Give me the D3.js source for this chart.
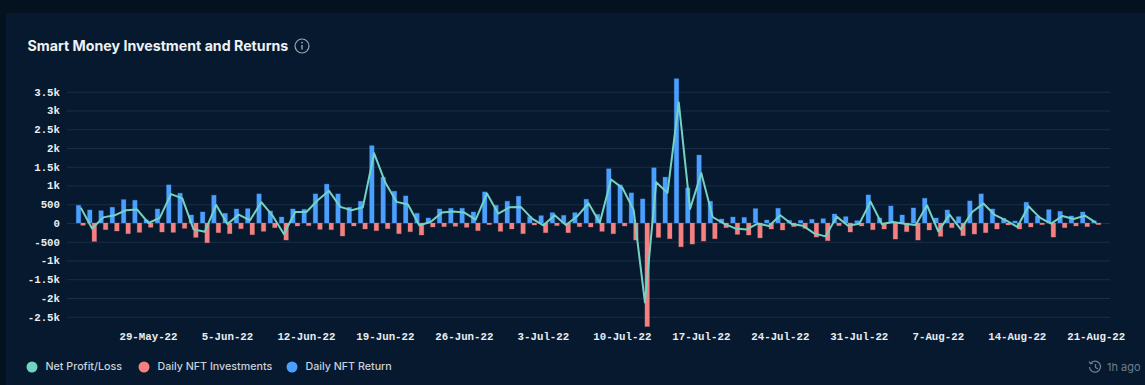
<!DOCTYPE html>
<html>
<head>
<meta charset="utf-8">
<script src="https://cdn.jsdelivr.net/npm/d3@7"></script>
<style>
    html, body { margin: 0; padding: 0; background: #04121f; overflow: hidden; }
    svg { display: block; }
    .tick text { font: bold 10.75px "Liberation Mono", monospace; fill: #e8edf2; }
</style>
</head>
<body>
<div id="chart"></div>
<script>
// values, one per day from 23-May-22 to 21-Aug-22
var dailyReturn = [473, 348, 330, 420, 625, 607, 85, 375, 1018, 795, 214, 295, 741, 259, 375, 384, 777, 321, 160, 375, 366, 777, 1036, 777,
    420, 580, 2063, 1223, 848, 723, 259, 134, 375, 393, 393, 295, 830, 473, 580, 714, 170, 196, 277, 205, 277, 634, 232,
    1447, 1018, 804, 643, 1473, 1223, 3848, 937, 1812, 580, 107, 160, 150, 384, 80, 393, 71, 71, 98, 116, 241, 170, 62,
    750, 134, 455, 214, 402, 660, 134, 348, 170, 589, 777, 375, 125, 54, 554, 188, 357, 312, 188, 295, 60];
var dailyInvest = [62, 491, 178, 214, 285, 250, 116, 241, 250, 143, 384, 527, 259, 285, 152, 312, 223, 125, 455, 80, 71, 170, 178, 348,
    80, 160, 205, 152, 285, 232, 321, 107, 98, 89, 116, 205, 45, 223, 160, 285, 54, 259, 71, 259, 98, 107, 223,
    286, 80, 455, 2760, 384, 420, 634, 562, 482, 420, 125, 304, 321, 398, 160, 187, 98, 143, 375, 473, 71, 241, 80,
    179, 161, 429, 232, 455, 187, 357, 125, 339, 295, 259, 160, 54, 160, 107, 45, 375, 125, 80, 98, 45];
var netProfit = [410, -145, 150, 205, 340, 357, 0, 135, 770, 655, -170, -232, 482, -28, 223, 72, 554, 196, -295, 295, 295, 607, 858, 429,
    340, 420, 1858, 1071, 563, 491, -62, 27, 277, 304, 277, 90, 785, 250, 420, 429, 116, -63, 206, -54, 179, 527, 9,
    1161, 938, 349, -2117, 1089, 803, 3214, 375, 1330, 160, -18, -144, -171, -14, -80, 206, -27, -72, -277, -357, 170, -71, -18,
    571, -27, 26, -18, -53, 473, -223, 223, -169, 294, 518, 215, 71, -106, 447, 143, -18, 187, 108, 197, 5];
var tickLabels = ["29-May-22", "5-Jun-22", "12-Jun-22", "19-Jun-22", "26-Jun-22", "3-Jul-22", "10-Jul-22", "17-Jul-22",
    "24-Jul-22", "31-Jul-22", "7-Aug-22", "14-Aug-22", "21-Aug-22"];
var yTicks = [-2500, -2000, -1500, -1000, -500, 0, 500, 1000, 1500, 2000, 2500, 3000, 3500];
var legendNames = ["Net Profit/Loss", "Daily NFT Investments", "Daily NFT Return"];

var W = 1145, H = 385;
var margin = { left: 67, right: 35, top: 76.75, bottom: 57 };
var colorLine = "#72d3c3", colorInv = "#f48080", colorRet = "#4b9fff";

var fmtDay = d3.timeFormat("%-d-%b-%y");
var days = d3.timeDay.range(new Date(2022, 4, 23), new Date(2022, 7, 22)).map(fmtDay);
var data = days.map(function (d, i) {
    return { day: d, ret: dailyReturn[i], inv: dailyInvest[i], net: netProfit[i] };
});

var svg = d3.select("#chart").append("svg").attr("width", W).attr("height", H);

// page + card
svg.append("rect").attr("width", W).attr("height", H).attr("fill", "#04121f");
svg.append("rect").attr("x", 6).attr("y", 13).attr("width", W - 6).attr("height", H - 13).attr("fill", "#06192e");

var scaleX = d3.scaleBand().domain(days).range([margin.left, W - margin.right]).paddingInner(0).paddingOuter(0.72);
var scaleX2 = d3.scaleBand().domain(["ret", "inv"]).range([0, scaleX.bandwidth()]).paddingInner(0).paddingOuter(0.25);
var scaleY = d3.scaleLinear().domain([-2760, 3848]).range([326.5, 78.7]);

// axes
var yAxis = d3.axisLeft(scaleY)
    .tickValues(yTicks)
    .tickSize(0)
    .tickPadding(7)
    .tickFormat(function (v) { return Math.abs(v) >= 1000 ? (v / 1000) + "k" : v; });
var xAxis = d3.axisBottom(scaleX).tickValues(tickLabels).tickSize(0).tickPadding(6);

svg.append("g").attr("class", "_y").attr("transform", "translate(" + margin.left + " 0)").call(yAxis)
    .call(function (g) { g.select(".domain").remove(); })
    .call(function (g) {
        g.selectAll(".tick").append("line")
            .attr("x2", W - margin.right - margin.left)
            .attr("stroke", "#1a2f47");
    });
svg.append("g").attr("class", "_x").attr("transform", "translate(0 326)").call(xAxis)
    .call(function (g) { g.select(".domain").remove(); });

// bars
var groups = svg.append("g").selectAll("g").data(data).enter().append("g")
    .attr("transform", function (d) { return "translate(" + scaleX(d.day) + " 0)"; });
groups.append("rect")
    .attr("x", scaleX2("ret"))
    .attr("width", scaleX2.bandwidth())
    .attr("y", function (d) { return scaleY(d.ret); })
    .attr("height", function (d) { return scaleY(0) - scaleY(d.ret); })
    .attr("fill", colorRet)
    .attr("stroke", colorRet).attr("stroke-opacity", 0.25);
groups.append("rect")
    .attr("x", scaleX2("inv"))
    .attr("width", scaleX2.bandwidth())
    .attr("y", scaleY(0))
    .attr("height", function (d) { return scaleY(-d.inv) - scaleY(0); })
    .attr("fill", colorInv)
    .attr("stroke", colorInv).attr("stroke-opacity", 0.25);

// net line
var line = d3.line()
    .x(function (d) { return scaleX(d.day) + scaleX.bandwidth() / 2; })
    .y(function (d) { return scaleY(d.net); });
svg.append("path").datum(data)
    .attr("d", line)
    .attr("fill", "none")
    .attr("stroke", colorLine)
    .attr("stroke-width", 2)
    .attr("stroke-linejoin", "round");

// title
svg.append("text").attr("x", 27.5).attr("y", 50.5).text("Smart Money Investment and Returns")
    .style("font", "700 14.2px Inter, sans-serif").attr("fill", "#eef2f6");
var info = svg.append("g").attr("transform", "translate(302 46)");
info.append("circle").attr("r", 7).attr("fill", "none").attr("stroke", "#9aa6b2").attr("stroke-width", 1.2);
info.append("line").attr("y1", -1).attr("y2", 3.5).attr("stroke", "#9aa6b2").attr("stroke-width", 1.4);
info.append("circle").attr("cy", -3.4).attr("r", 0.9).attr("fill", "#9aa6b2");

// legend
var legendX = [32, 144, 292];
var legendColors = [colorLine, colorInv, colorRet];
legendNames.forEach(function (name, i) {
    svg.append("circle").attr("cx", legendX[i]).attr("cy", 367).attr("r", 5.5).attr("fill", legendColors[i]);
    svg.append("text").attr("x", legendX[i] + 13.5).attr("y", 370).text(name)
        .style("font", "500 10.7px Inter, sans-serif").attr("fill", "#c9d2db");
});

// last updated
var clock = svg.append("g").attr("transform", "translate(1095 367)")
    .attr("fill", "none").attr("stroke", "#6f7d8b").attr("stroke-width", 1.3);
clock.append("path").attr("d", "M-4.5 -3.5A5.5 5.5 0 1 1 -5.5 0");
clock.append("path").attr("d", "M-6 -5.5L-4.5 -3.2L-2 -4");
clock.append("path").attr("d", "M0.5 -3V0.5L3 2");
svg.append("text").attr("x", 1107).attr("y", 370.5).text("1h ago")
    .style("font", "11px Inter, sans-serif").attr("fill", "#6f7d8b");
</script>
</body>
</html>
